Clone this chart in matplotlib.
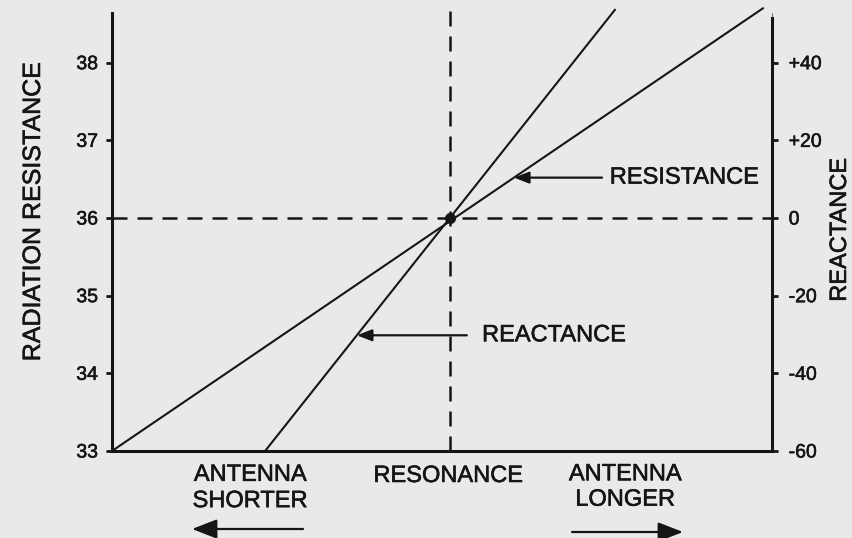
import numpy as np
import matplotlib
matplotlib.use("Agg")
import matplotlib.pyplot as plt
import matplotlib.patheffects as pe
from matplotlib.patches import FancyArrowPatch

# position along the antenna-length axis, 0 = resonance
res_x = [-1.0, 0.926]
res_ohms = [33.0, 38.7]
react_x = [-0.547, 0.488]
react_ohms = [-60.0, 53.6]

left_ticks = [33, 34, 35, 36, 37, 38]
right_ticks = [-60, -40, -20, 0, 20, 40]
right_labels = ["-60", "-40", "-20", "0", "+20", "+40"]

W, H = 853, 538
ink = "#151515"
paper = "#e9e9e8"

plt.rcParams["font.family"] = ["Liberation Sans", "DejaVu Sans"]
plt.rcParams["path.effects"] = [pe.withStroke(linewidth=0.4, foreground=ink)]

fig = plt.figure(figsize=(W / 100, H / 100), dpi=100, facecolor=paper)
ax = fig.add_axes([112 / W, 1 - 451 / H, (772 - 112) / W, (451 - 13) / H])
ax.set_facecolor(paper)
ax2 = ax.twinx()

def px(x, y):
    # pixel position -> figure fraction
    return x / W, 1 - y / H

ax.set_xlim(-1.0, 0.953)
ax.set_ylim(33, 38.64)
ax2.set_ylim(-60, 52.8)

for a in (ax, ax2):
    for s in a.spines.values():
        s.set_visible(False)
ax.spines["left"].set_visible(True)
ax.spines["bottom"].set_visible(True)
ax2.spines["right"].set_visible(True)
for s in (ax.spines["left"], ax.spines["bottom"], ax2.spines["right"]):
    s.set_linewidth(2.2)
    s.set_color(ink)
ax2.spines["right"].set_bounds(-60, 51.5)

ax.set_xticks([])
ax.set_yticks(left_ticks)
ax.set_yticklabels([str(t) for t in left_ticks])
ax2.set_yticks(right_ticks)
ax2.set_yticklabels(right_labels)
ax.tick_params(axis="y", direction="out", length=4, width=2, colors=ink,
               labelsize=14, pad=6)
ax2.tick_params(axis="y", direction="out", length=4, width=2, colors=ink,
                labelsize=14, pad=8)

# dashed crosshair at resonance
ax.axhline(36, color=ink, lw=1.8, ls=(0, (6, 4)), path_effects=[])
ax.plot([0, 0], [33, 38.72], color=ink, lw=1.8, ls=(0, (6, 4)), clip_on=False,
        path_effects=[])

ax.plot(res_x, res_ohms, color=ink, lw=1.5, clip_on=False, path_effects=[])
ax2.plot(react_x, react_ohms, color=ink, lw=1.5, clip_on=False, path_effects=[])
ax.plot([0], [36], "o", color=ink, ms=7, path_effects=[])

arrow = dict(arrowstyle="-|>,head_length=0.9,head_width=0.35", color=ink,
             lw=1.6, shrinkA=0, shrinkB=0)

# RESISTANCE pointer
ry = 36.52
rx = np.interp(ry, res_ohms, res_x)
ax.annotate("", xy=(rx, ry), xytext=(0.45, ry), arrowprops=arrow)
ax.text(0.473, ry, "RESISTANCE", fontsize=17, color=ink, ha="left", va="center")

# REACTANCE pointer
xy = -30.2
xx = np.interp(xy, react_ohms, react_x)
ax2.annotate("", xy=(xx, xy), xytext=(0.05, xy), arrowprops=arrow)
ax2.text(0.095, xy, "REACTANCE", fontsize=17, color=ink, ha="left", va="center")

fig.text(*px(33, 212), "RADIATION RESISTANCE", rotation=90, fontsize=18,
         color=ink, ha="center", va="center")
fig.text(*px(840, 230), "REACTANCE", rotation=90, fontsize=17,
         color=ink, ha="center", va="center")

fig.text(*px(250, 488), "ANTENNA\nSHORTER", fontsize=17, color=ink,
         ha="center", va="center", linespacing=1.25)
fig.text(*px(448, 476), "RESONANCE", fontsize=17, color=ink,
         ha="center", va="center")
fig.text(*px(625, 487), "ANTENNA\nLONGER", fontsize=17, color=ink,
         ha="center", va="center", linespacing=1.2)

fig.add_artist(FancyArrowPatch(px(303, 529), px(192, 529),
                               transform=fig.transFigure, mutation_scale=17,
                               path_effects=[], **arrow))
fig.add_artist(FancyArrowPatch(px(572, 532), px(683, 532),
                               transform=fig.transFigure, mutation_scale=17,
                               path_effects=[], **arrow))

fig.savefig("out.png", dpi=100, facecolor=paper)
